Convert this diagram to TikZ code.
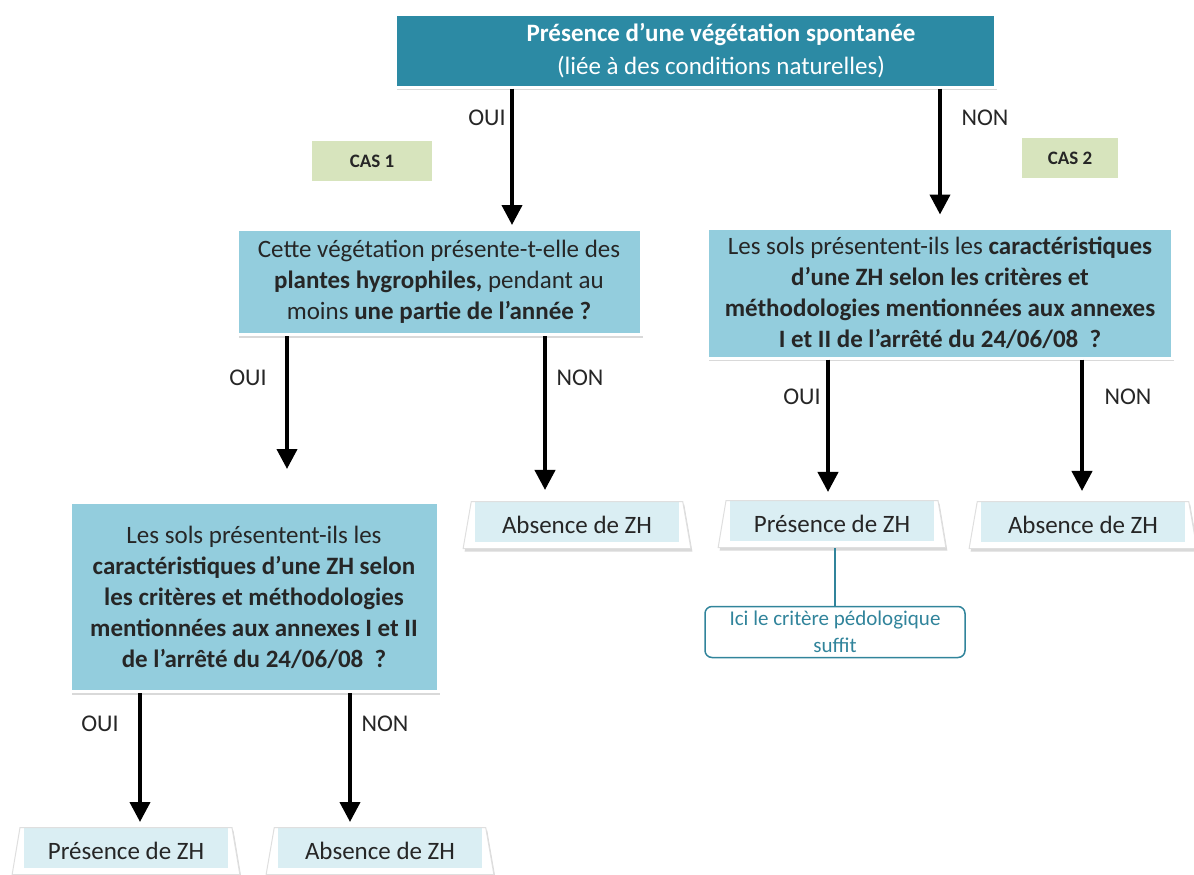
\documentclass[tikz,border=0pt]{standalone}
\usepackage{fontspec}
\setmainfont{Carlito}
\usetikzlibrary{arrows.meta,shapes.geometric,shadows}

\definecolor{topteal}{RGB}{44,138,164}
\definecolor{questblue}{RGB}{147,205,221}
\definecolor{endblue}{RGB}{218,238,243}
\definecolor{casgreen}{RGB}{215,228,189}
\definecolor{noteteal}{RGB}{49,132,155}
\definecolor{inktext}{RGB}{38,38,38}

\begin{document}
\begin{tikzpicture}[
      x=1pt, y=-1pt,
      font=\fontsize{25}{31}\selectfont,
      boxshadow/.style={drop shadow={opacity=0.3,shadow xshift=1.5pt,shadow yshift=-3pt}},
      topbox/.style={
        draw=white,
        line width=3pt,
        fill=topteal,
        boxshadow,
        minimum width=600pt,
        minimum height=72pt
      },
      question/.style={
        draw=white,
        line width=3pt,
        fill=questblue,
        boxshadow,
        text=inktext,
        align=center,
        inner sep=0pt
      },
      endbox/.style={
        trapezium,
        trapezium left angle=76,
        trapezium right angle=76,
        trapezium stretches=true,
        minimum width=228pt,
        minimum height=47pt,
        draw=gray!25,
        line width=1pt,
        fill=white,
        boxshadow,
        text=inktext,
        path picture={\fill[endblue]
          ([xshift=12pt]path picture bounding box.north west) rectangle
          ([xshift=-12pt,yshift=7pt]path picture bounding box.south east);}
      },
      caslabel/.style={fill=casgreen,text=inktext,minimum height=40pt,
        font=\fontsize{19}{22}\selectfont\bfseries},
      answer/.style={text=inktext,font=\fontsize{24}{28}\selectfont},
      pedonote/.style={
        draw=noteteal,
        line width=1.5pt,
        rounded corners=7pt,
        text=noteteal,
        align=center,
        font=\fontsize{21}{27}\selectfont,
        minimum width=260pt,
        minimum height=51pt,
        inner sep=2pt
      },
      flowarrow/.style={-{Triangle[width=20pt,length=20pt]},line width=4pt}
    ]
    \useasboundingbox (0,0) rectangle (1194,875);

    % questions
    \node[topbox] (presveg) at (695,51) {};
    \node[text=white,align=center,font=\fontsize{25}{33}\selectfont] (presvegtext) at (721,51)
      {\textbf{Présence d’une végétation spontanée}\\(liée à des conditions naturelles)};
    \node[question,minimum width=404pt,minimum height=105pt] (hygro) at (439,282)
      {Cette végétation présente-t-elle des\\
       \textbf{plantes hygrophiles,} pendant au\\
       moins \textbf{une partie de l’année ?}};
    \node[question,minimum width=465pt,minimum height=130pt] (solsR) at (940,293)
      {Les sols présentent-ils les \textbf{caractéristiques}\\
       \textbf{d’une ZH selon les critères et}\\
       \textbf{méthodologies mentionnées aux annexes}\\
       \textbf{I et II de l’arrêté du 24/06/08 \ ?}};
    \node[question,minimum width=368pt,minimum height=189pt] (solsL) at (254,597)
      {Les sols présentent-ils les\\
       \textbf{caractéristiques d’une ZH selon}\\
       \textbf{les critères et méthodologies}\\
       \textbf{mentionnées aux annexes I et II}\\
       \textbf{de l’arrêté du 24/06/08 \ ?}};

    \node[caslabel,minimum width=120pt] (cas1) at (372,161) {CAS 1};
    \node[caslabel,minimum width=96pt] (cas2) at (1070,158) {CAS 2};

    % conclusions
    \node[endbox] (absA) at (577,525) {Absence de ZH};
    \node[endbox] (presB) at (832,524) {Présence de ZH};
    \node[endbox] (absB) at (1083,525) {Absence de ZH};
    \node[endbox] (presC) at (126,851) {Présence de ZH};
    \node[endbox] (absC) at (380,851) {Absence de ZH};
    \node[pedonote] (pedo) at (835,632) {Ici le critère pédologique\\suffit};

    % answers
    \node[answer] (oui1) at (487,118) {OUI};
    \node[answer] (non1) at (985,118) {NON};
    \node[answer] (oui2) at (248,378) {OUI};
    \node[answer] (non2) at (580,378) {NON};
    \node[answer] (oui3) at (802,397) {OUI};
    \node[answer] (non3) at (1128,397) {NON};
    \node[answer] (oui4) at (100,724) {OUI};
    \node[answer] (non4) at (385,724) {NON};

    \coordinate (x1) at (512,0);
    \coordinate (x2) at (940,0);
    \coordinate (x3) at (287,0);
    \coordinate (x4) at (545,0);
    \coordinate (x5) at (828,0);
    \coordinate (x6) at (1082,0);
    \coordinate (x7) at (140,0);
    \coordinate (x8) at (350,0);

    \draw[flowarrow,shorten >=3pt] (presveg.south -| x1) -- (hygro.north -| x1);
    \draw[flowarrow,shorten >=12pt] (presveg.south -| x2) -- (solsR.north -| x2);
    \draw[flowarrow,shorten >=32pt] (hygro.south -| x3) -- (solsL.north -| x3);
    \draw[flowarrow,shorten >=11pt] (hygro.south -| x4) -- (absA.north -| x4);
    \draw[flowarrow,shorten >=8pt] (solsR.south -| x5) -- (presB.north -| x5);
    \draw[flowarrow,shorten >=10pt] (solsR.south -| x6) -- (absB.north -| x6);
    \draw[flowarrow,shorten >=5pt] (solsL.south -| x7) -- (presC.north -| x7);
    \draw[flowarrow,shorten >=5pt] (solsL.south -| x8) -- (absC.north -| x8);
    \draw[noteteal,line width=2pt] (presB.south -| pedo.north) -- (pedo.north);
  \end{tikzpicture}
\end{document}
